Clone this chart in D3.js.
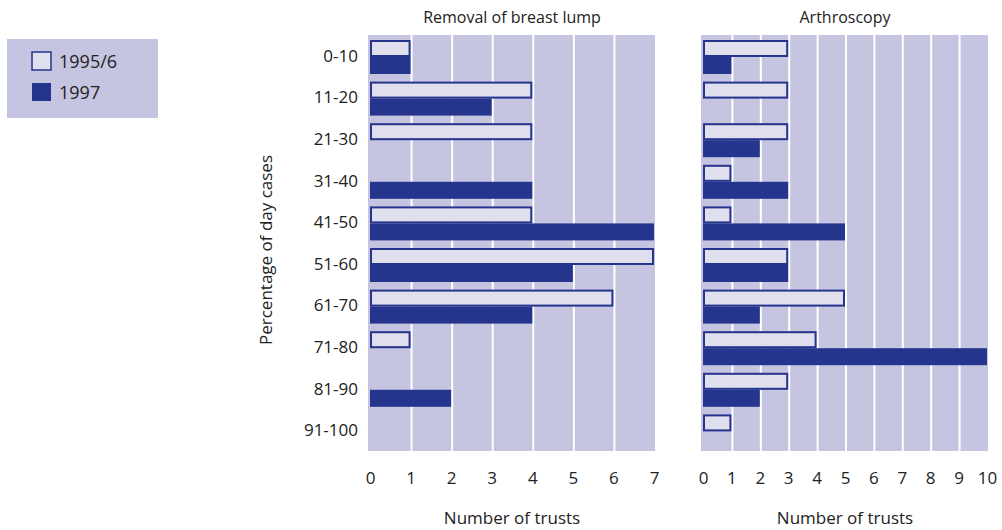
<!DOCTYPE html>
<html>
<head>
<meta charset="utf-8">
<script src="https://cdn.jsdelivr.net/npm/d3@7"></script>
<style>
body { margin: 0; background: #fff; }
text { font-family: "Open Sans", sans-serif; fill: #222; }
</style>
</head>
<body>
<script>
// chart size
var w = 1002;
var h = 530;

var categories = ["0-10", "11-20", "21-30", "31-40", "41-50", "51-60", "61-70", "71-80", "81-90", "91-100"];
var seriesNames = ["1995/6", "1997"];

// removal of breast lump
var lump1995 = [1, 4, 4, 0, 4, 7, 6, 1, 0, 0];
var lump1997 = [1, 3, 0, 4, 7, 5, 4, 0, 2, 0];

// arthroscopy
var arthro1995 = [3, 3, 3, 1, 1, 3, 5, 4, 3, 1];
var arthro1997 = [1, 0, 2, 3, 5, 3, 2, 10, 2, 0];

var lumpTicks = [0, 1, 2, 3, 4, 5, 6, 7];
var arthroTicks = [0, 1, 2, 3, 4, 5, 6, 7, 8, 9, 10];

var bg = "#c5c5e1";
var light = "#dfdfed";
var dark = "#25348c";

var svg = d3.select("body")
		.append("svg")
		.attr("width", w)
		.attr("height", h);

var y = d3.scaleBand()
		.domain(categories)
		.range([35, 451])
		.paddingInner(0);

var ySub = d3.scaleBand()
		.domain(seriesNames)
		.range([5, 39])
		.padding(0);

// legend
var legend = svg.append("g");
legend.append("rect")
		.attr("x", 7).attr("y", 39)
		.attr("width", 151).attr("height", 79)
		.attr("fill", bg);
seriesNames.forEach(function(s, i) {
	legend.append("rect")
			.attr("x", 32).attr("y", 52 + i * 31)
			.attr("width", 19).attr("height", 18)
			.attr("fill", i == 0 ? light : dark)
			.attr("stroke", dark)
			.attr("stroke-width", i == 0 ? 1.5 : 0);
	legend.append("text")
			.attr("x", 59).attr("y", 68 + i * 31)
			.attr("font-size", "18px")
			.text(s);
});

// category labels
svg.selectAll("text.cat")
		.data(categories)
		.enter()
		.append("text")
		.attr("class", "cat")
		.attr("x", 358)
		.attr("y", function(d) { return y(d) + y.bandwidth() / 2 + 6; })
		.attr("text-anchor", "end")
		.attr("font-size", "17px")
		.text(function(d) { return d; });

svg.append("text")
		.attr("transform", "translate(272," + 250 + ") rotate(-90)")
		.attr("text-anchor", "middle")
		.attr("font-size", "17px")
		.text("Percentage of day cases");

var panel = function(x0, x1, maxV, ticks, v1, v2, title) {
	var x = d3.scaleLinear().domain([0, maxV]).range([x0, x1]);
	var g = svg.append("g");

	g.append("rect")
			.attr("x", x0 - 2).attr("y", 35)
			.attr("width", x1 - x0 + 3).attr("height", 416)
			.attr("fill", bg);

	// white grid
	g.selectAll("line.grid")
			.data(ticks.slice(1, ticks.length - 1))
			.enter()
			.append("line")
			.attr("x1", function(d) { return x(d) + 1; })
			.attr("x2", function(d) { return x(d) + 1; })
			.attr("y1", 35).attr("y2", 451)
			.attr("stroke", "#fff")
			.attr("stroke-width", 2);

	var rows = categories.map(function(c, i) {
		return { cat: c, a: v1[i], b: v2[i] };
	});

	g.selectAll("rect.a")
			.data(rows.filter(function(d) { return d.a > 0; }))
			.enter()
			.append("rect")
			.attr("x", x(0) + 1)
			.attr("y", function(d) { return y(d.cat) + ySub("1995/6") + 1; })
			.attr("width", function(d) { return x(d.a) - x(0) - 2; })
			.attr("height", ySub.bandwidth() - 2)
			.attr("fill", light)
			.attr("stroke", dark)
			.attr("stroke-width", 2);

	g.selectAll("rect.b")
			.data(rows.filter(function(d) { return d.b > 0; }))
			.enter()
			.append("rect")
			.attr("x", x(0))
			.attr("y", function(d) { return y(d.cat) + ySub("1997"); })
			.attr("width", function(d) { return x(d.b) - x(0); })
			.attr("height", ySub.bandwidth())
			.attr("fill", dark);

	var axis = d3.axisBottom(x).tickValues(ticks).tickFormat(d3.format("d")).tickSize(0).tickPadding(0);
	var ax = g.append("g")
			.attr("transform", "translate(0,484)")
			.call(axis);
	ax.select(".domain").remove();
	ax.selectAll("text")
			.attr("font-size", "17px")
			.attr("font-family", "Open Sans, sans-serif")
			.attr("fill", "#222")
			.attr("dy", "0");

	g.append("text")
			.attr("x", (x0 + x1) / 2).attr("y", 524)
			.attr("text-anchor", "middle")
			.attr("font-size", "17px")
			.text("Number of trusts");

	g.append("text")
			.attr("x", (x0 + x1) / 2).attr("y", 23)
			.attr("text-anchor", "middle")
			.attr("font-size", "16px")
			.text(title);
};

panel(370, 654, 7, lumpTicks, lump1995, lump1997, "Removal of breast lump");
panel(703, 987, 10, arthroTicks, arthro1995, arthro1997, "Arthroscopy");
</script>
</body>
</html>
